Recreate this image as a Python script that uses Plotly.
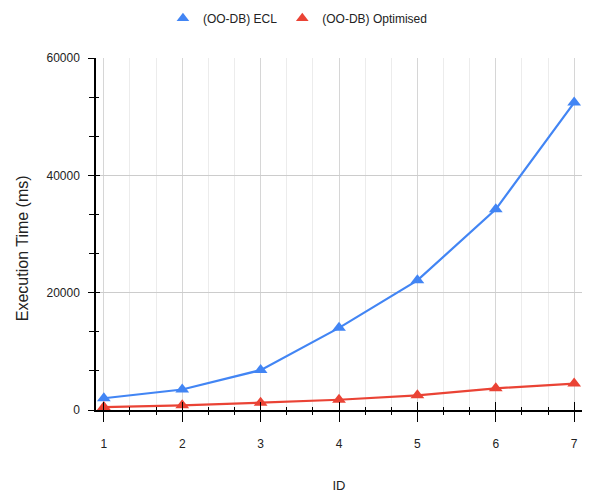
import plotly.graph_objects as go

ids = [1, 2, 3, 4, 5, 6, 7]
ecl = [2000, 3500, 6800, 14000, 22100, 34200, 52400]
optimised = [500, 800, 1250, 1750, 2500, 3700, 4500]
series_names = ["(OO-DB) ECL", "(OO-DB) Optimised"]
colors = ["#4285F4", "#EA4335"]
y_ticks = [0, 20000, 40000, 60000]
y_title = "Execution Time (ms)"
x_title = "ID"

FONT = "Liberation Sans, Arial, sans-serif"
fig = go.Figure()

for name, vals, c in zip(series_names, [ecl, optimised], colors):
    fig.add_trace(go.Scatter(x=ids, y=vals, mode="lines+markers", name=name,
                             line=dict(color=c, width=2.2),
                             marker=dict(symbol="triangle-up", size=12, color=c),
                             showlegend=False, hoverinfo="x+y", cliponaxis=False))
    fig.add_trace(go.Scatter(x=[None], y=[None], mode="markers", name=name,
                             marker=dict(symbol="triangle-up", size=11, color=c),
                             showlegend=True))

# invisible trace to carry the overlaid "inside" tick axes
fig.add_trace(go.Scatter(x=ids, y=ecl, xaxis="x2", yaxis="y2", mode="markers",
                         marker=dict(opacity=0), showlegend=False, hoverinfo="skip"))

common_font = dict(family=FONT, size=12, color="#222222")

fig.update_layout(
    width=590, height=493,
    margin=dict(l=96, r=8, t=58, b=83),
    paper_bgcolor="white", plot_bgcolor="white",
    font=common_font,
    showlegend=True,
    legend=dict(orientation="h", xref="container", yref="container",
                x=0.505, xanchor="center", y=0.963, yanchor="middle",
                font=dict(family=FONT, size=12, color="#222222"),
                itemwidth=30, tracegroupgap=0),
    xaxis=dict(range=[0.9, 7.1], tickvals=ids, showgrid=True, gridcolor="#d6d6d6",
               gridwidth=1, zeroline=False, showline=True, linecolor="#000000", linewidth=1.5,
               ticks="outside", ticklen=10, tickcolor="#000000", tickwidth=1,
               minor=dict(dtick=1/3, tick0=1, showgrid=True, gridcolor="#ececec",
                          ticks="outside", ticklen=3, tickcolor="#000000"),
               tickfont=common_font, ticklabelstandoff=12, automargin=False,
               title=dict(text=x_title, font=dict(family=FONT, size=13, color="#222222"), standoff=36)),
    yaxis=dict(range=[0, 60000], tickvals=y_ticks, tickformat="d", showgrid=True, gridcolor="#cccccc",
               zeroline=False, showline=True, linecolor="#000000", linewidth=1.5,
               ticks="outside", ticklen=6, tickcolor="#000000",
               minor=dict(dtick=20000/3, tick0=0, showgrid=False,
                          ticks="outside", ticklen=5, tickcolor="#000000"),
               tickfont=common_font, ticklabelstandoff=6, automargin=False),
    xaxis2=dict(range=[0.9, 7.1], overlaying="x", anchor="y2", side="bottom",
                tickvals=ids, showgrid=False, zeroline=False, showline=False,
                ticks="inside", ticklen=8, tickcolor="#000000", showticklabels=False,
                automargin=False,
                minor=dict(dtick=1/3, tick0=1, ticks="inside", ticklen=3, tickcolor="#000000")),
    yaxis2=dict(range=[0, 60000], overlaying="y", anchor="x2", side="left",
                tickvals=y_ticks, showgrid=False, zeroline=False, showline=False,
                ticks="inside", ticklen=4, tickcolor="#000000", showticklabels=False,
                automargin=False,
                minor=dict(dtick=20000/3, tick0=0, ticks="inside", ticklen=3, tickcolor="#000000")),
    annotations=[dict(text=y_title, textangle=-90, xref="paper", yref="paper",
                      x=-0.152, y=0.46, xanchor="center", yanchor="middle",
                      showarrow=False, font=dict(family=FONT, size=16, color="#222222"))],
)

fig.write_html("out.html", config={"displayModeBar": False},
               post_script="document.body.style.margin='0';document.body.style.padding='0';")
